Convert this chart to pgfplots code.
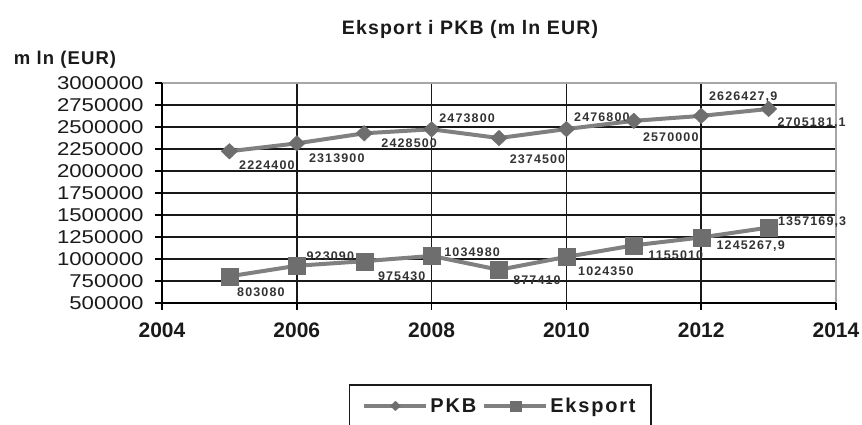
\documentclass[border=0pt]{standalone}
\usepackage{fontspec}
\setmainfont{Liberation Sans}
\newfontfamily\spc[LetterSpace=9]{Liberation Sans}
\newfontfamily\spt[LetterSpace=6]{Liberation Sans}
\newfontfamily\wide[FakeStretch=1.2]{Liberation Sans}
\usepackage{pgfplots}
\pgfplotsset{compat=1.18}
\definecolor{lgray}{HTML}{808080}
\definecolor{mgray}{HTML}{6E6E6E}
\definecolor{labgray}{HTML}{333333}
\definecolor{txt}{HTML}{1A1A1A}
\begin{document}
\begin{tikzpicture}
\useasboundingbox (-162pt,-121pt) rectangle (700pt,303pt);
\begin{axis}[
    at={(0,0)}, anchor=south west,
    scale only axis,
    width=674pt, height=220pt,
    xmin=2004, xmax=2014,
    ymin=500000, ymax=3000000,
    xtick={2004,2006,...,2012},
    extra x ticks={2014},
    extra x tick style={grid=none},
    ytick={500000,750000,...,2750000},
    extra y ticks={3000000},
    extra y tick style={grid=none},
    grid=major,
    major grid style={black!90, line width=1.7pt},
    axis line style={draw=gray!70, line width=1.8pt},
    tick pos=left, tick align=outside,
    major tick length=7pt,
    tick style={black, line width=1.6pt},
    scaled ticks=false,
    /pgf/number format/assume math mode=true,
    x tick label style={/pgf/number format/1000 sep={}, font=\bfseries\fontsize{21}{21}\selectfont, text=txt, yshift=-9pt},
    y tick label style={/pgf/number format/fixed, /pgf/number format/1000 sep={}, font=\wide\fontsize{18.5}{18.5}\selectfont, text=txt, xshift=-8pt},
    legend columns=2,
    legend style={at={(0.5015,-0.468)}, anchor=center, draw=none, fill=none,
        font=\spc\bfseries\fontsize{20}{20}\selectfont, text=txt,
        /tikz/every even column/.append style={column sep=4pt}},
    legend image code/.code={
        \draw[mark repeat=2, mark phase=2, #1, line width=4pt, every mark/.append style={scale=0.62}]
        plot coordinates {(0pt,0pt) (31pt,0pt) (62pt,0pt)};},
    nodes near coords,
    point meta=explicit symbolic,
    every node near coord/.append style={anchor=center, xshift=\ldx pt, yshift=\ldy pt,
        font=\spc\bfseries\fontsize{12.5}{12.5}\selectfont, text=labgray, inner sep=0pt},
]
\addplot[color=lgray, line width=4pt, mark=diamond*, mark size=8pt,
    mark options={fill=mgray, draw=mgray, line width=0.1pt, xscale=1.4},
    visualization depends on={\thisrow{dx} \as \ldx},
    visualization depends on={\thisrow{dy} \as \ldy}]
table[meta=lab] {
x    y          lab        dx    dy
2005 2224400    2224400    37.5  -14
2006 2313900    2313900    40    -14.6
2007 2428500    2428500    45    -10
2008 2473800    2473800    35.5  11
2009 2374500    2374500    38.5  -21.5
2010 2476800    2476800    35.5  11.5
2011 2570000    2570000    37    -16.7
2012 2626427.9  2626427,9  42    19
2013 2705181.1  2705181,1  43    -14
};
\addlegendentry{PKB}
\addplot[color=lgray, line width=4pt, mark=square*, mark size=8.5pt,
    mark options={fill=mgray, draw=mgray, line width=0.1pt},
    visualization depends on={\thisrow{dx} \as \ldx},
    visualization depends on={\thisrow{dy} \as \ldy}]
table[meta=lab] {
x    y          lab        dx    dy
2005 803080     803080     31.5  -16
2006 923090     923090     33.5  10
2007 975430     975430     37.5  -15
2008 1034980    1034980    40.5  4
2009 877410     877410     38    -10
2010 1024350    1024350    39.5  -14
2011 1155010    1155010    42    -10
2012 1245267.9  1245267,9  49.5  -9
2013 1357169.3  1357169,3  43.5  5
};
\addlegendentry{Eksport}
\end{axis}
\draw[black, line width=1.8pt] (0pt,220pt) -- (0pt,0pt) -- (674pt,0pt);
\draw[txt, line width=1.6pt] (187.5pt,-140pt) -- (187.5pt,-82pt) -- (489pt,-82pt) -- (489pt,-140pt);
\node[font=\spt\bfseries\fontsize{19.5}{19.5}\selectfont, text=txt] at (308pt,274pt) {Eksport i PKB (m ln EUR)};
\node[font=\spt\bfseries\fontsize{18.5}{18.5}\selectfont, text=txt] at (-97pt,243pt) {m ln (EUR)};
\end{tikzpicture}
\end{document}
